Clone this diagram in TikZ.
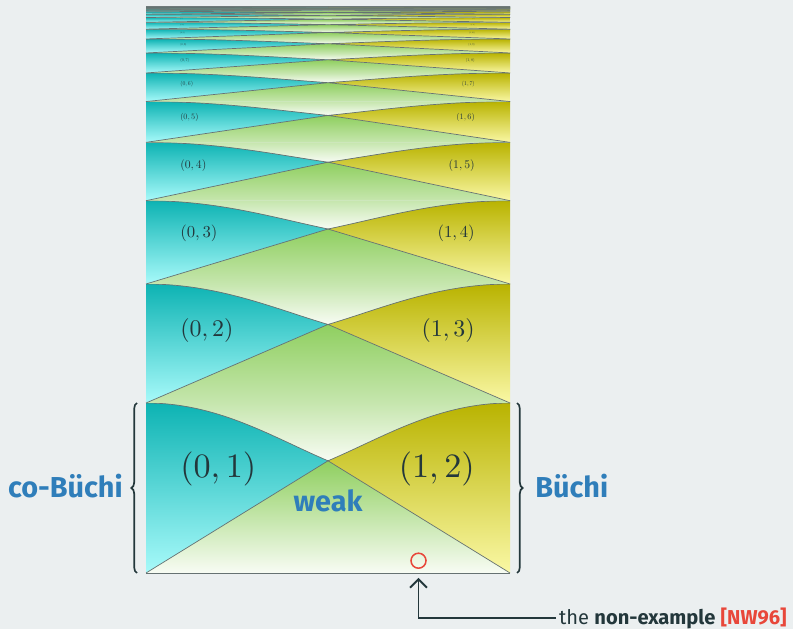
\documentclass[tikz,border=0pt]{standalone}
\usepackage{fontspec}
\setsansfont{Fira Sans}
\usetikzlibrary{arrows.meta,decorations.pathreplacing}
\definecolor{bggray}{HTML}{EBEFF0}
\definecolor{textdark}{HTML}{23373B}
\definecolor{edgegray}{HTML}{667272}
\definecolor{cyantop}{HTML}{0DB3B3}
\definecolor{cyanbot}{HTML}{A8FAFA}
\definecolor{yelltop}{HTML}{B9B300}
\definecolor{yellbot}{HTML}{FAF8A5}
\definecolor{greenmid}{HTML}{8FCF5F}
\definecolor{greenpale}{HTML}{C6E6AE}
\definecolor{greenwhite}{HTML}{F8FCF4}
\definecolor{hiblue}{HTML}{2F7EBA}
\definecolor{alertred}{HTML}{E8473A}

\begin{document}
\begin{tikzpicture}[x=0.025cm, y=0.025cm, >={Straight Barb[length=6pt,width=12pt]},
  edge/.style={draw=edgegray, line width=0.5pt},
  brc/.style={decorate, decoration={brace, amplitude=4pt}, draw=textdark, line width=1.2pt},
  tag/.style={font=\sffamily\bfseries\fontsize{20.5}{24}\selectfont, text=hiblue, inner sep=0pt}]
  \fill[bggray] (0,0) rectangle (793,629);
  \useasboundingbox (0,0) rectangle (793,629);

  % bands of the hierarchy, each 0.7 of the one below
  \foreach \k in {0,...,20} {
    \pgfmathsetmacro\h{170*0.7^\k}
    \pgfmathsetmacro\B{56+566.667*(1-0.7^\k)}
    \pgfmathsetmacro\T{\B+\h}
    \pgfmathsetmacro\C{\B+0.66*\h}
    \pgfmathsetmacro\Q{\C+0.4*0.34*\h}
    \shade[top color=greenpale, bottom color=greenwhite]
      (146,\T) .. controls (218.8,\T) and (273.4,\Q) .. (328,\C)
      .. controls (382.6,\Q) and (437.2,\T) .. (510,\T) -- cycle;
    \ifnum\k=0
      \shade[top color=greenmid, bottom color=greenwhite] (146,\B) -- (328,\C) -- (510,\B) -- cycle;
    \else
      \shade[top color=greenmid, bottom color=greenpale] (146,\B) -- (328,\C) -- (510,\B) -- cycle;
    \fi
    \shade[top color=cyantop, bottom color=cyanbot]
      (146,\B) -- (328,\C) .. controls (273.4,\Q) and (218.8,\T) .. (146,\T) -- cycle;
    \shade[top color=yelltop, bottom color=yellbot]
      (510,\B) -- (328,\C) .. controls (382.6,\Q) and (437.2,\T) .. (510,\T) -- cycle;
    \draw[edge] (146,\B) -- (328,\C) .. controls (273.4,\Q) and (218.8,\T) .. (146,\T);
    \draw[edge] (510,\B) -- (328,\C) .. controls (382.6,\Q) and (437.2,\T) .. (510,\T);
  }
  \draw[edge] (146,56) -- (510,56);

  % level labels
  \foreach \k in {0,...,10} {
    \pgfmathsetmacro\s{2.43*0.7^\k}
    \pgfmathsetmacro\Y{56+566.667*(1-0.7^\k)+0.61*170*0.7^\k}
    \pgfmathtruncatemacro\a{\k+1}
    \pgfmathtruncatemacro\b{\k+2}
    \node[anchor=west, text=textdark, inner sep=0pt] (cob\k) at (180,\Y) {\scalebox{\s}{$(0,\a)$}};
    \node[anchor=east, text=textdark, inner sep=0pt] (bu\k) at (475,\Y) {\scalebox{\s}{$(1,\b)$}};
  }

  \draw[brc] (137,56) -- (137,226);
  \draw[brc] (517,226) -- (517,56);
  \node[tag, anchor=base east] (cobuchi) at (123,131) {co-Büchi};
  \node[tag, anchor=base west] (buchi) at (535,131) {Büchi};
  \node[tag, anchor=base] (weak) at (328,117) {weak};

  \node[circle, draw=alertred, line width=1.1pt, minimum size=0.375cm, inner sep=0pt] (nonex) at (418.5,68.3) {};
  \node[anchor=west, inner sep=2pt, text=textdark, font=\sffamily\fontsize{14.3}{17}\selectfont] (note) at (556,11)
    {the \textbf{non-example} \textcolor{alertred}{\textbf{[NW96]}}};
  \draw[->, textdark, line width=1.3pt, shorten >=6.4pt] (note.west) -| (nonex.south);
\end{tikzpicture}
\end{document}
